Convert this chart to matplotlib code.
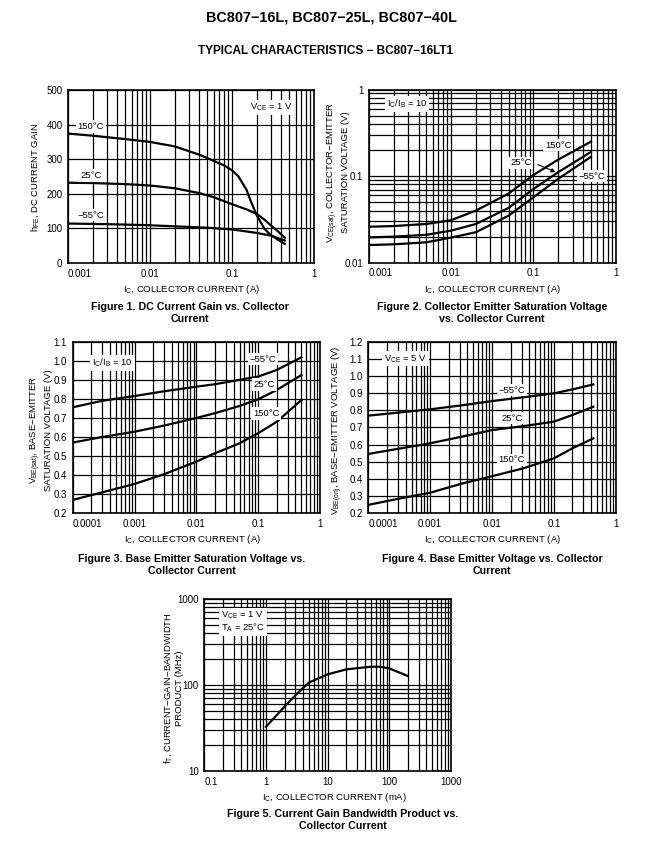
import matplotlib
matplotlib.use('Agg')
import matplotlib.pyplot as plt
from matplotlib.ticker import LogLocator, NullLocator, NullFormatter

plt.rcParams['font.family'] = ['Liberation Sans', 'DejaVu Sans']
plt.rcParams['mathtext.fontset'] = 'custom'
plt.rcParams['mathtext.rm'] = 'Liberation Sans'
plt.rcParams['mathtext.it'] = 'Liberation Sans'
plt.rcParams['mathtext.default'] = 'regular'

W, H = 669, 848

# ---- Figure 1: DC current gain (VCE = 1 V) ----
hfe_150_ic = [0.001, 0.002, 0.005, 0.01, 0.02, 0.04, 0.06, 0.08, 0.1, 0.12, 0.15, 0.17, 0.2, 0.25, 0.3, 0.35, 0.44]
hfe_150 = [374, 368, 358, 350, 337, 313, 295, 282, 268, 250, 212, 178, 138, 98, 80, 70, 55]
hfe_25_ic = [0.001, 0.002, 0.005, 0.01, 0.02, 0.04, 0.06, 0.1, 0.15, 0.2, 0.25, 0.3, 0.35, 0.44]
hfe_25 = [232, 231, 228, 224, 216, 202, 190, 170, 155, 142, 125, 108, 95, 73]
hfe_m55_ic = [0.001, 0.002, 0.005, 0.01, 0.02, 0.05, 0.1, 0.2, 0.3, 0.44]
hfe_m55 = [114, 113, 111, 109, 106, 102, 97, 87, 79, 65]

# ---- Figure 2: VCE(sat), IC/IB = 10 ----
vcesat_ic = [0.001, 0.002, 0.005, 0.01, 0.02, 0.05, 0.1, 0.2, 0.5]
vcesat_150 = [0.026, 0.0265, 0.028, 0.031, 0.040, 0.063, 0.103, 0.155, 0.25]
vcesat_25 = [0.0196, 0.020, 0.021, 0.0235, 0.028, 0.043, 0.071, 0.111, 0.19]
vcesat_m55 = [0.016, 0.0163, 0.0172, 0.0195, 0.0225, 0.035, 0.057, 0.093, 0.167]

# ---- Figure 3: VBE(sat), IC/IB = 10 ----
vbesat_ic = [0.0001, 0.0003, 0.001, 0.003, 0.01, 0.02, 0.05, 0.1, 0.2, 0.5]
vbesat_m55 = [0.756, 0.79, 0.815, 0.84, 0.864, 0.877, 0.90, 0.917, 0.952, 1.018]
vbesat_25 = [0.571, 0.60, 0.628, 0.66, 0.70, 0.725, 0.763, 0.798, 0.847, 0.925]
vbesat_150 = [0.27, 0.31, 0.354, 0.405, 0.471, 0.515, 0.567, 0.62, 0.68, 0.794]

# ---- Figure 4: VBE(on), VCE = 5 V ----
vbeon_ic = [0.0001, 0.00033, 0.001, 0.0034, 0.01, 0.032, 0.1, 0.2, 0.435]
vbeon_m55 = [0.769, 0.788, 0.806, 0.830, 0.854, 0.876, 0.899, 0.922, 0.951]
vbeon_25 = [0.546, 0.578, 0.608, 0.648, 0.685, 0.708, 0.734, 0.773, 0.821]
vbeon_150 = [0.249, 0.287, 0.320, 0.375, 0.416, 0.462, 0.52, 0.579, 0.637]

# ---- Figure 5: fT, VCE = 1 V, TA = 25C ----
ft_ic = [1, 2, 3, 5, 10, 20, 50, 70, 100, 200]
ft = [32.7, 56, 76, 107, 133, 152, 163, 163, 156, 127]

temp_labels = ['150°C', '25°C', '−55°C']

fig = plt.figure(figsize=(W / 100, H / 100), dpi=100)


def px_axes(x0, y0, x1, y1):
    return fig.add_axes([x0 / W, 1 - y1 / H, (x1 - x0) / W, (y1 - y0) / H])


def ftext(x, y, s, **kw):
    fig.text(x / W, 1 - y / H, s, **kw)


def style(ax, xticks, xlabels, yticks, ylabels, ylog=False):
    ax.set_xscale('log')
    if ylog:
        ax.set_yscale('log')
        ax.yaxis.set_minor_locator(LogLocator(subs=range(2, 10)))
        ax.yaxis.set_minor_formatter(NullFormatter())
    else:
        ax.yaxis.set_minor_locator(NullLocator())
    ax.xaxis.set_minor_locator(LogLocator(subs=range(2, 10)))
    ax.xaxis.set_minor_formatter(NullFormatter())
    ax.set_xticks(xticks)
    ax.set_xticklabels(xlabels)
    ax.set_yticks(yticks)
    ax.set_yticklabels(ylabels)
    ax.set_xlim(xticks[0], xticks[-1])
    ax.set_ylim(yticks[0], yticks[-1])
    ax.xaxis.get_majorticklabels()[0].set_horizontalalignment('left')
    ax.grid(True, which='both', color='black', linewidth=0.9)
    ax.set_axisbelow(True)
    ax.tick_params(which='both', length=0, labelsize=7, pad=4)
    for sp in ax.spines.values():
        sp.set_linewidth(1.2)


def label(ax, x, y, s, **kw):
    ax.text(x, y, s, fontsize=6.8, ha='center', va='center', zorder=3,
            bbox=dict(facecolor='white', edgecolor='none', pad=1.2), **kw)


lw = 1.6
cap = dict(fontsize=7.7, fontweight='bold', ha='center', va='center', linespacing=1.2)

# Titles
ftext(332, 18, 'BC807−16L, BC807−25L, BC807−40L', fontsize=10.4, fontweight='bold', ha='center', va='center')
ftext(326, 51, 'TYPICAL CHARACTERISTICS − BC807−16LT1', fontsize=8.5, fontweight='bold', ha='center', va='center')

# Figure 1
ax1 = px_axes(68, 90, 314, 263)
ax1.plot(hfe_150_ic, hfe_150, color='black', lw=lw)
ax1.plot(hfe_25_ic, hfe_25, color='black', lw=lw)
ax1.plot(hfe_m55_ic, hfe_m55, color='black', lw=lw)
style(ax1, [0.001, 0.01, 0.1, 1], ['0.001', '0.01', '0.1', '1'],
      [0, 100, 200, 300, 400, 500], ['0', '100', '200', '300', '400', '500'])
label(ax1, 0.0019, 395, temp_labels[0])
label(ax1, 0.0019, 253, temp_labels[1])
label(ax1, 0.0019, 138, temp_labels[2])
label(ax1, 0.3, 450, 'V$_{CE}$ = 1 V')
ftext(35, 177, 'h$_{FE}$, DC CURRENT GAIN', fontsize=6.8, rotation=90, ha='center', va='center')
ftext(191, 289, 'I$_C$, COLLECTOR CURRENT (A)', fontsize=6.8, ha='center', va='center')
ftext(190, 313, 'Figure 1. DC Current Gain vs. Collector\nCurrent', **cap)

# Figure 2
ax2 = px_axes(369, 89.5, 615.7, 262.7)
ax2.plot(vcesat_ic, vcesat_150, color='black', lw=lw)
ax2.plot(vcesat_ic, vcesat_25, color='black', lw=lw)
ax2.plot(vcesat_ic, vcesat_m55, color='black', lw=lw)
style(ax2, [0.001, 0.01, 0.1, 1], ['0.001', '0.01', '0.1', '1'],
      [0.01, 0.1, 1], ['0.01', '0.1', '1'], ylog=True)
label(ax2, 0.0029, 0.676, 'I$_C$/I$_B$ = 10')
label(ax2, 0.2, 0.228, temp_labels[0])
label(ax2, 0.07, 0.142, temp_labels[1])
label(ax2, 0.51, 0.1, temp_labels[2])
ax2.annotate('', xy=(0.2, 0.108), xytext=(0.105, 0.140),
             arrowprops=dict(arrowstyle='-|>', color='black', lw=0.8, mutation_scale=6))
ftext(338, 172, 'V$_{CE(sat)}$, COLLECTOR−EMITTER\nSATURATION VOLTAGE (V)', fontsize=6.8,
      rotation=90, ha='center', va='center', linespacing=1.1)
ftext(492, 289, 'I$_C$, COLLECTOR CURRENT (A)', fontsize=6.8, ha='center', va='center')
ftext(492, 313, 'Figure 2. Collector Emitter Saturation Voltage\nvs. Collector Current', **cap)

# Figure 3
v_ticks = [0.2, 0.3, 0.4, 0.5, 0.6, 0.7, 0.8, 0.9, 1.0, 1.1]
ax3 = px_axes(72.7, 341.7, 320, 513.3)
ax3.plot(vbesat_ic, vbesat_m55, color='black', lw=lw)
ax3.plot(vbesat_ic, vbesat_25, color='black', lw=lw)
ax3.plot(vbesat_ic, vbesat_150, color='black', lw=lw)
style(ax3, [0.0001, 0.001, 0.01, 0.1, 1], ['0.0001', '0.001', '0.01', '0.1', '1'],
      v_ticks, ['%.1f' % v for v in v_ticks])
label(ax3, 0.00044, 0.99, 'I$_C$/I$_B$ = 10')
label(ax3, 0.118, 1.008, temp_labels[2])
label(ax3, 0.125, 0.876, temp_labels[1])
label(ax3, 0.134, 0.724, temp_labels[0])
ftext(40.5, 430, 'V$_{BE(sat)}$, BASE−EMITTER\nSATURATION VOLTAGE (V)', fontsize=6.8,
      rotation=90, ha='center', va='center', linespacing=1.1)
ftext(192, 539, 'I$_C$, COLLECTOR CURRENT (A)', fontsize=6.8, ha='center', va='center')
ftext(192, 565, 'Figure 3. Base Emitter Saturation Voltage vs.\nCollector Current', **cap)

# Figure 4
v4_ticks = [0.2, 0.3, 0.4, 0.5, 0.6, 0.7, 0.8, 0.9, 1.0, 1.1, 1.2]
ax4 = px_axes(368.3, 341.7, 615.7, 513.3)
ax4.plot(vbeon_ic, vbeon_m55, color='black', lw=lw)
ax4.plot(vbeon_ic, vbeon_25, color='black', lw=lw)
ax4.plot(vbeon_ic, vbeon_150, color='black', lw=lw)
style(ax4, [0.0001, 0.001, 0.01, 0.1, 1], ['0.0001', '0.001', '0.01', '0.1', '1'],
      v4_ticks, ['%.1f' % v for v in v4_ticks])
label(ax4, 0.0004, 1.1, 'V$_{CE}$ = 5 V')
label(ax4, 0.021, 0.918, temp_labels[2])
label(ax4, 0.021, 0.754, temp_labels[1])
label(ax4, 0.021, 0.511, temp_labels[0])
ftext(337, 430, 'V$_{BE(on)}$, BASE−EMITTER VOLTAGE (V)', fontsize=6.8,
      rotation=90, ha='center', va='center')
ftext(492, 539, 'I$_C$, COLLECTOR CURRENT (A)', fontsize=6.8, ha='center', va='center')
ftext(492, 565, 'Figure 4. Base Emitter Voltage vs. Collector\nCurrent', **cap)

# Figure 5
ax5 = px_axes(204.3, 599, 451, 771)
ax5.plot(ft_ic, ft, color='black', lw=lw)
style(ax5, [0.1, 1, 10, 100, 1000], ['0.1', '1', '10', '100', '1000'],
      [10, 100, 1000], ['10', '100', '1000'], ylog=True)
ax5.text(0.42, 540, 'V$_{CE}$ = 1 V\nT$_A$ = 25°C', fontsize=6.8, ha='center', va='center',
         multialignment='left', linespacing=1.1, zorder=3,
         bbox=dict(facecolor='white', edgecolor='none', pad=1.2))
ftext(173, 688, 'f$_T$, CURRENT−GAIN−BANDWIDTH\nPRODUCT (MHz)', fontsize=6.8,
      rotation=90, ha='center', va='center', linespacing=1.1)
ftext(334, 797, 'I$_C$, COLLECTOR CURRENT (mA)', fontsize=6.8, ha='center', va='center')
ftext(343, 820, 'Figure 5. Current Gain Bandwidth Product vs.\nCollector Current', **cap)

fig.savefig('out.png', dpi=100, facecolor='white')
